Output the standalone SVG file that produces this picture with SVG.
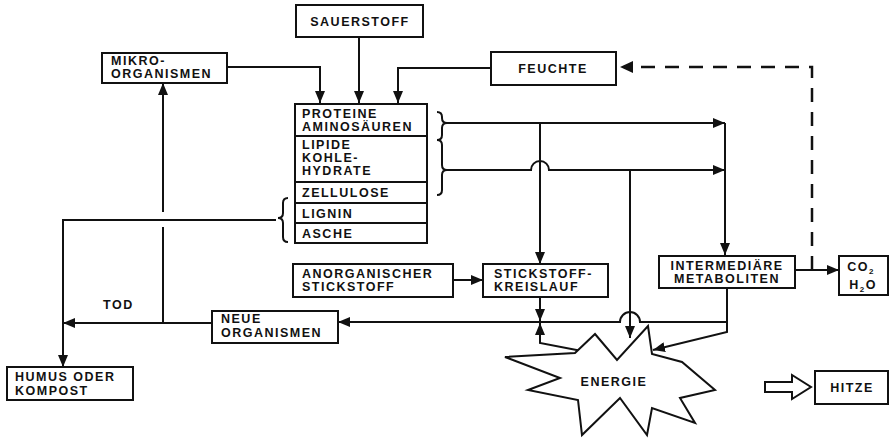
<svg xmlns="http://www.w3.org/2000/svg" width="894" height="439" viewBox="0 0 894 439">
<defs>
<style>
rect.b{fill:#fff;stroke:#111;stroke-width:2}
text{font-family:"Liberation Sans",Arial,sans-serif;font-weight:bold;font-size:12.5px;letter-spacing:1.5px;fill:#111}
.c{text-anchor:middle}
.ln{fill:none;stroke:#111;stroke-width:2}
.dash{fill:none;stroke:#111;stroke-width:2.5;stroke-dasharray:14 10}
</style>
<marker id="ah" viewBox="0 0 12 10" refX="12" refY="5" markerWidth="12" markerHeight="10" markerUnits="userSpaceOnUse" orient="auto"><path d="M0,0 L12,5 L0,10 z" fill="#111"/></marker>
</defs>
<rect width="894" height="439" fill="#fff"/>

<g id="connectors">
<path class="ln" d="M227,67 H320 V103" marker-end="url(#ah)"/>
<path class="ln" d="M359,37 V103" marker-end="url(#ah)"/>
<path class="ln" d="M491,68 H398 V103" marker-end="url(#ah)"/>
<path class="dash" d="M812,270 V67 H632"/>
<path d="M620,67 L633,61 L633,73 z" fill="#111"/>
<path class="ln" d="M452,123 H725" marker-end="url(#ah)"/>
<path class="ln" d="M452,170 H531 A9,9 0 0 1 549,170 H725" marker-end="url(#ah)"/>
<path class="ln" d="M725,123 V255" marker-end="url(#ah)"/>
<path class="ln" d="M540,123 V264" marker-end="url(#ah)"/>
<path class="ln" d="M630,170 V338" marker-end="url(#ah)"/>
<path class="ln" d="M795,270 H839" marker-end="url(#ah)"/>
<path class="ln" d="M453,280 H483" marker-end="url(#ah)"/>
<path class="ln" d="M727,288 V332 L653,350" marker-end="url(#ah)"/>
<path class="ln" d="M727,322 H640 A10,10 0 0 0 620,322 H338" marker-end="url(#ah)"/>
<path class="ln" d="M540,297 V321" marker-end="url(#ah)"/>
<path class="ln" d="M587,352 L540,343 V323" marker-end="url(#ah)"/>
<path class="ln" d="M212,323 H63" marker-end="url(#ah)"/>
<path class="ln" d="M163,323 V227 M163,212 V83" marker-end="url(#ah)"/>
<path class="ln" d="M276,220 H63 V367" marker-end="url(#ah)"/>
<path class="ln" d="M437,112 q5,0 5,5 v1 q0,5 5,5 q-5,0 -5,5 v7 q0,5 -5,5"/>
<path class="ln" d="M437,140 q5,0 5,5 v20 q0,5 5,5 q-5,0 -5,5 v15 q0,5 -5,5"/>
<path class="ln" d="M288,198 q-5,0 -5,5 v10 q0,5 -5,5 q5,0 5,5 v14 q0,5 5,5"/>
<path class="ln" d="M447,123 H452 M447,170 H452"/>
<polygon points="765,382 792,382 792,375 811,387 792,399 792,392 765,392" fill="#fff" stroke="#111" stroke-width="2"/>
</g>

<g id="sauerstoff"><rect class="b" x="296" y="5" width="127" height="32"/><text class="c" x="360" y="26">SAUERSTOFF</text></g>
<g id="mikro"><rect class="b" x="102" y="53" width="125" height="30"/><text x="111" y="65">MIKRO-</text><text x="111" y="78">ORGANISMEN</text></g>
<g id="feuchte"><rect class="b" x="491" y="52" width="125" height="33"/><text class="c" x="553" y="73">FEUCHTE</text></g>
<g id="substrat">
<rect class="b" x="295" y="104" width="132" height="139"/>
<path class="ln" d="M295,136 H427 M295,182 H427 M295,203 H427 M295,223 H427"/>
<text x="302" y="118">PROTEINE</text><text x="302" y="131">AMINOSÄUREN</text>
<text x="302" y="149">LIPIDE</text><text x="302" y="162">KOHLE-</text><text x="302" y="175">HYDRATE</text>
<text x="302" y="197">ZELLULOSE</text>
<text x="302" y="218">LIGNIN</text>
<text x="302" y="238">ASCHE</text>
</g>
<g id="anorg"><rect class="b" x="293" y="264" width="160" height="33"/><text x="302" y="278">ANORGANISCHER</text><text x="302" y="291">STICKSTOFF</text></g>
<g id="kreislauf"><rect class="b" x="483" y="264" width="125" height="33"/><text x="494" y="278">STICKSTOFF-</text><text x="494" y="291">KREISLAUF</text></g>
<g id="metaboliten"><rect class="b" x="659" y="256" width="136" height="32"/><text class="c" x="727" y="270">INTERMEDIÄRE</text><text class="c" x="727" y="283">METABOLITEN</text></g>
<g id="co2"><rect class="b" x="839" y="256" width="49" height="39"/><text class="c" x="861" y="271">CO<tspan font-size="8" dy="3">2</tspan></text><text class="c" x="863" y="289">H<tspan font-size="8" dy="3">2</tspan><tspan dy="-3">O</tspan></text></g>
<g id="neue"><rect class="b" x="212" y="311" width="126" height="32"/><text x="221" y="323">NEUE</text><text x="221" y="337">ORGANISMEN</text></g>
<g id="humus"><rect class="b" x="7" y="367" width="126" height="33"/><text x="15" y="381">HUMUS ODER</text><text x="15" y="395">KOMPOST</text></g>
<g id="tod"><text x="103" y="309">TOD</text></g>
<g id="energie"><polygon points="595,334 617,360 648,326 652,354 682,362 715,390 680,398 695,423 652,408 647,435 620,398 582,435 578,400 528,390 560,378 505,357 575,353" fill="#fff" stroke="#111" stroke-width="2" stroke-linejoin="miter"/><text class="c" x="614" y="386">ENERGIE</text></g>
<g id="hitze"><rect class="b" x="815" y="371" width="73" height="33"/><text class="c" x="852" y="392">HITZE</text></g>
</svg>
